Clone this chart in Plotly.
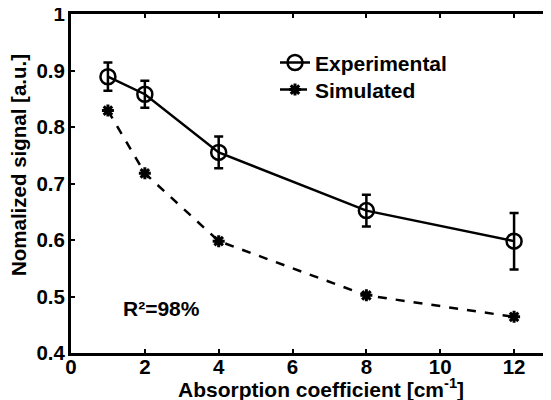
import plotly.graph_objects as go

x_vals = [1, 2, 4, 8, 12]
experimental = [0.889, 0.858, 0.755, 0.652, 0.598]
exp_err = [0.025, 0.024, 0.028, 0.028, 0.050]
simulated = [0.829, 0.718, 0.598, 0.502, 0.464]
x_ticks = [0, 2, 4, 6, 8, 10, 12]
y_ticks = [0.4, 0.5, 0.6, 0.7, 0.8, 0.9, 1.0]
y_labels = ["0.4", "0.5", "0.6", "0.7", "0.8", "0.9", "1"]

FAM = "Liberation Sans, Arial, sans-serif"

def bfont(size):
    return dict(family=FAM, size=size, color="black", weight="bold")

fig = go.Figure()
fig.add_trace(go.Scatter(
    x=x_vals, y=experimental, name="Experimental", mode="lines+markers",
    line=dict(color="black", width=2.5),
    marker=dict(symbol="circle-open", size=15, color="black", line=dict(width=2.5)),
    error_y=dict(type="data", array=exp_err, visible=True, color="black", thickness=2.5, width=4.5),
    legend="legend",
))
fig.add_trace(go.Scatter(
    x=x_vals, y=simulated, name="Simulated", mode="lines+markers",
    line=dict(color="black", width=2.5, dash="dash"),
    marker=dict(symbol="asterisk-open", size=10, color="black", line=dict(width=3, color="black")),
    legend="legend2",
))

fig.add_annotation(x=2.45, y=0.478, text="R²=98%", showarrow=False, font=bfont(21))
fig.add_annotation(xref="paper", yref="paper", x=0.52, y=0, yshift=-35, yanchor="middle",
                   text="Absorption coefficient [cm<sup>-1</sup>]", showarrow=False, font=bfont(21))
fig.add_annotation(xref="paper", yref="paper", x=0, xshift=-52.5, y=0.553, xanchor="center",
                   yanchor="middle", textangle=-90,
                   text="Nomalized signal [a.u.]", showarrow=False, font=bfont(20.5))

axis_common = dict(showgrid=False, zeroline=False, showline=True, linecolor="black", linewidth=3,
                   mirror="ticks", ticks="inside", ticklen=4, tickwidth=2, tickcolor="black",
                   tickfont=bfont(20.5), automargin=False, ticklabeloverflow="allow")

fig.update_xaxes(range=[0, 13], tickvals=x_ticks, ticktext=[str(v) for v in x_ticks],
                 ticklabelstandoff=-7, **axis_common)
fig.update_yaxes(range=[0.4, 1.0], tickvals=y_ticks, ticktext=y_labels,
                 ticklabelstandoff=-1, **axis_common)

legend_common = dict(xanchor="left", yanchor="middle", bgcolor="rgba(0,0,0,0)",
                     font=bfont(21), borderwidth=0)

# page body has an 8px default margin, so the figure is sized to fill the rest of the window
fig.update_layout(
    width=543, height=392,
    margin=dict(l=63, r=0, t=6, b=47),
    plot_bgcolor="white", paper_bgcolor="white",
    showlegend=True,
    legend=dict(x=0.425, y=0.856, **legend_common),
    legend2=dict(x=0.425, y=0.776, **legend_common),
)

fig.write_html("out.html")
